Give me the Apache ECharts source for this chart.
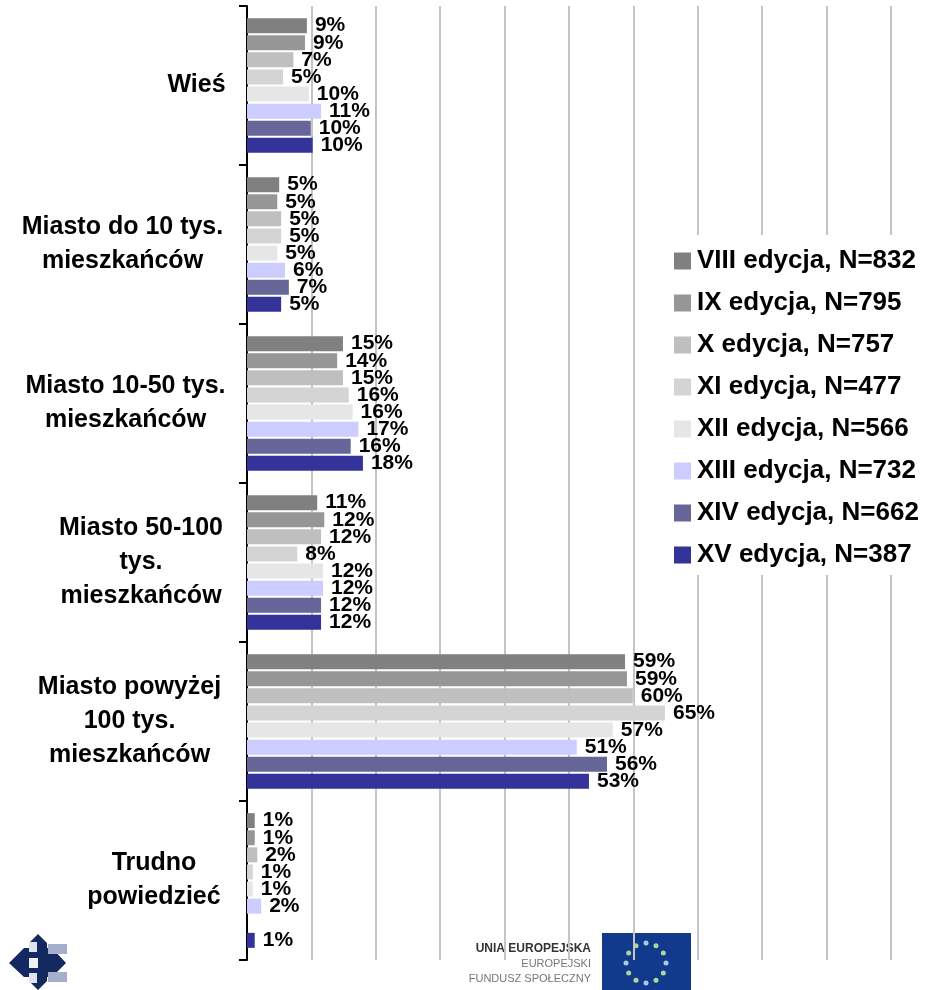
<!DOCTYPE html>
<html>
<head>
<meta charset="utf-8">
<style>
  html, body { margin: 0; padding: 0; background: #fff; }
  #main { width: 944px; height: 990px; }
</style>
<script src="https://cdn.jsdelivr.net/npm/echarts@6/dist/echarts.min.js"></script>
</head>
<body>
<div id="main"></div>
<script>
var FONT = '"Liberation Sans", Arial, sans-serif';

var categories = ['Wieś', 'Miasto do 10 tys.\nmieszkańców', 'Miasto 10-50 tys.\nmieszkańców', 'Miasto 50-100\ntys.\nmieszkańców', 'Miasto powyżej\n100 tys.\nmieszkańców', 'Trudno\npowiedzieć'];
var seriesNames = ['VIII edycja, N=832', 'IX edycja, N=795', 'X edycja, N=757', 'XI edycja, N=477', 'XII edycja, N=566', 'XIII edycja, N=732', 'XIV edycja, N=662', 'XV edycja, N=387'];
var colors = ['#808080', '#969696', '#bfbfbf', '#d4d4d4', '#e6e6e6', '#ccccff', '#666699', '#333399'];

// bar lengths
var edycja8 = [9.3, 5.0, 14.9, 10.9, 58.7, 1.2];
var edycja9 = [9.0, 4.7, 14.0, 12.0, 59.0, 1.2];
var edycja10 = [7.2, 5.3, 14.9, 11.5, 59.9, 1.6];
var edycja11 = [5.6, 5.3, 15.8, 7.8, 64.9, 0.9];
var edycja12 = [9.6, 4.7, 16.4, 11.8, 56.8, 0.9];
var edycja13 = [11.5, 5.9, 17.3, 11.8, 51.2, 2.2];
var edycja14 = [9.9, 6.5, 16.1, 11.5, 55.9, null];
var edycja15 = [10.2, 5.3, 18.0, 11.5, 53.1, 1.2];
var values = [edycja8, edycja9, edycja10, edycja11, edycja12, edycja13, edycja14, edycja15];

// printed labels are rounded by the source, not always the way the bar suggests
var labels8 = [9, 5, 15, 11, 59, 1];
var labels9 = [9, 5, 14, 12, 59, 1];
var labels10 = [7, 5, 15, 12, 60, 2];
var labels11 = [5, 5, 16, 8, 65, 1];
var labels12 = [10, 5, 16, 12, 57, 1];
var labels13 = [11, 6, 17, 12, 51, 2];
var labels14 = [10, 7, 16, 12, 56, null];
var labels15 = [10, 5, 18, 12, 53, 1];
var printed = [labels8, labels9, labels10, labels11, labels12, labels13, labels14, labels15];

// width of each category label block, lines are centred inside it
var labelWidths = [63, 211, 205, 174, 197, 148];

var richStyles = {};
labelWidths.forEach(function (w, i) {
    richStyles['c' + i] = { width: w, align: 'center', fontFamily: FONT, fontWeight: 'bold', fontSize: 25, lineHeight: 34, color: '#000' };
});

var series = seriesNames.map(function (name, s) {
    return {
        name: name,
        type: 'bar',
        data: values[s],
        barWidth: 15,
        barGap: '14%',
        itemStyle: { color: colors[s] },
        label: {
            show: true,
            position: 'right',
            distance: 8,
            fontFamily: FONT,
            fontWeight: 'bold',
            fontSize: 21,
            color: '#000',
            formatter: function (p) {
                var v = printed[s][p.dataIndex];
                return v === null ? '' : v + '%';
            }
        }
    };
});

// logos at the bottom of the page
var stars = [];
for (var i = 0; i < 12; i++) {
    var a = i * Math.PI / 6;
    stars.push({
        type: 'circle',
        z: -1,
        shape: { cx: 646 + 20 * Math.cos(a), cy: 963 + 20 * Math.sin(a), r: 2.5 },
        style: { fill: i % 3 === 0 ? '#a5cbe0' : '#aed69a' }
    });
}
var logoText = function (text, y, size, weight, fill) {
    return {
        type: 'text', z: -1, x: 591, y: y,
        style: { text: text, align: 'right', verticalAlign: 'middle', font: weight + ' ' + size + 'px ' + FONT, fill: fill }
    };
};
var logoParts = [
    { type: 'polygon', z: -1, shape: { points: [[9, 963], [24, 948], [29, 948], [29, 943], [38, 934], [47, 943], [47, 948], [52, 948], [66, 963], [52, 977], [47, 977], [47, 981], [38, 990], [29, 981], [29, 977], [24, 977]] }, style: { fill: '#14295f' } },
    { type: 'rect', z: -1, shape: { x: 29, y: 942, width: 8, height: 10 }, style: { fill: '#dfe3ee' } },
    { type: 'rect', z: -1, shape: { x: 29, y: 958, width: 9, height: 10 }, style: { fill: '#eef0f5' } },
    { type: 'rect', z: -1, shape: { x: 29, y: 973, width: 8, height: 10 }, style: { fill: '#dfe3ee' } },
    { type: 'rect', z: -1, shape: { x: 48, y: 944, width: 19, height: 10 }, style: { fill: '#a5aecb' } },
    { type: 'rect', z: -1, shape: { x: 48, y: 972, width: 19, height: 10 }, style: { fill: '#a5aecb' } },
    logoText('UNIA EUROPEJSKA', 949, 12, 'bold', '#333'),
    logoText('EUROPEJSKI', 964, 11, 'normal', '#777'),
    logoText('FUNDUSZ SPOŁECZNY', 979, 11, 'normal', '#777'),
    { type: 'rect', z: -1, shape: { x: 602, y: 933, width: 89, height: 57 }, style: { fill: '#123a8c' } }
].concat(stars);

var chart = echarts.init(document.getElementById('main'));
chart.setOption({
    animation: false,
    backgroundColor: '#fff',
    grid: { left: 247, top: 6, width: 644, height: 954 },
    legend: {
        orient: 'vertical',
        left: 655,
        top: 235,
        padding: [13, 30, 7, 19],
        backgroundColor: '#fff',
        itemWidth: 17,
        itemHeight: 17,
        itemGap: 16,
        icon: 'rect',
        data: seriesNames,
        textStyle: { fontFamily: FONT, fontWeight: 'bold', fontSize: 26, lineHeight: 26, color: '#000', padding: [0, 0, 0, 1] }
    },
    xAxis: {
        type: 'value',
        min: 0,
        max: 100,
        interval: 10,
        axisLine: { show: false },
        axisTick: { show: false },
        axisLabel: { show: false },
        splitLine: { show: true, lineStyle: { color: '#c4c4c4', width: 2 } }
    },
    yAxis: {
        type: 'category',
        inverse: true,
        data: categories,
        axisLine: { onZero: false, lineStyle: { color: '#000', width: 2 } },
        axisTick: { show: true, length: 8, lineStyle: { color: '#000', width: 2 } },
        axisLabel: {
            margin: 19,
            align: 'right',
            rich: richStyles,
            formatter: function (v, i) {
                return v.split('\n').map(function (line) { return '{c' + i + '|' + line + '}'; }).join('\n');
            }
        }
    },
    graphic: logoParts,
    series: series
});
</script>
</body>
</html>
